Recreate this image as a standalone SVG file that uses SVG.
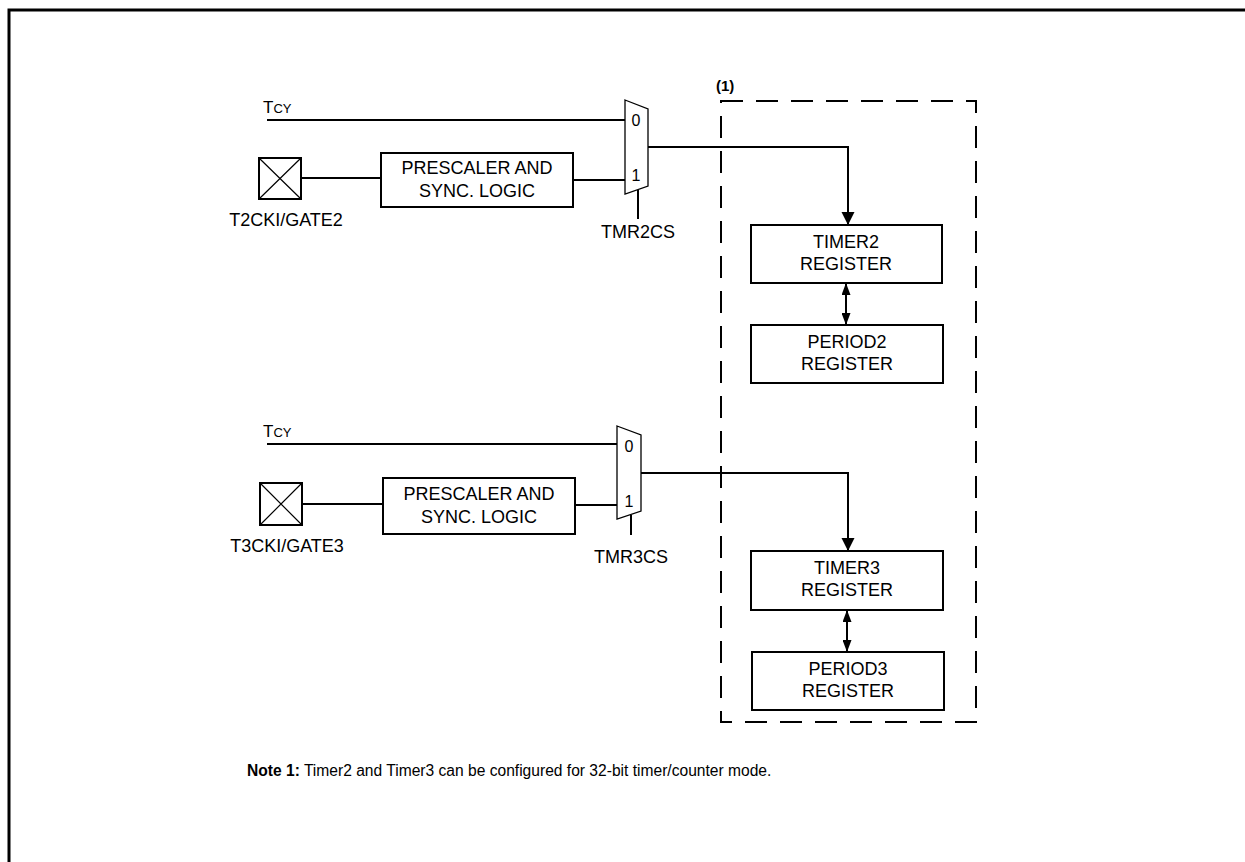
<svg xmlns="http://www.w3.org/2000/svg" width="1245" height="862" viewBox="0 0 1245 862">
<style>
text{font-family:"Liberation Sans",Arial,sans-serif;font-size:18px;fill:#000}
.c{text-anchor:middle}
.box{fill:#fff;stroke:#000;stroke-width:2}
.w{fill:none;stroke:#000;stroke-width:2}
.thin{fill:none;stroke:#000;stroke-width:1.2}
.mux{fill:#fff;stroke:#000;stroke-width:1.3}
.b{font-weight:bold}
.d{font-size:16px}
.note{font-size:15.6px}
</style>
<defs>
<marker id="ah" viewBox="0 0 13 18" refX="13" refY="9" markerWidth="13" markerHeight="18" markerUnits="userSpaceOnUse" orient="auto">
<path d="M0,2.5 L13,9 L0,15.5 Z" fill="#000"/>
</marker>
<marker id="ah2" viewBox="0 0 12 9" refX="12" refY="4.5" markerWidth="12" markerHeight="9" markerUnits="userSpaceOnUse" orient="auto-start-reverse">
<path d="M0,0 L12,4.5 L0,9 Z" fill="#000"/>
</marker>
</defs>
<rect x="0" y="0" width="1245" height="862" fill="#fff"/>
<path d="M9,870 V10 H1250" fill="none" stroke="#000" stroke-width="3"/>

<g id="group1">
<rect x="721" y="101" width="255" height="621" fill="none" stroke="#000" stroke-width="2" stroke-dasharray="22 13"/>
<text x="716" y="91" class="b" style="font-size:15px">(1)</text>
</g>

<g id="connectors">
<line x1="267" y1="120" x2="625" y2="120" class="w"/>
<line x1="301" y1="178" x2="381" y2="178" class="w"/>
<line x1="573" y1="180" x2="625" y2="180" class="w"/>
<polyline points="648,147 848,147 848,225" class="w" marker-end="url(#ah)"/>
<line x1="638" y1="190" x2="638" y2="219" class="w"/>
<line x1="846" y1="283" x2="846" y2="325" class="w" marker-start="url(#ah2)" marker-end="url(#ah2)"/>

<line x1="267" y1="444" x2="617" y2="444" class="w"/>
<line x1="302" y1="504" x2="383" y2="504" class="w"/>
<line x1="573" y1="505" x2="617" y2="505" class="w"/>
<polyline points="641,473 848,473 848,551" class="w" marker-end="url(#ah)"/>
<line x1="631" y1="515" x2="631" y2="535" class="w"/>
<line x1="847" y1="610" x2="847" y2="652" class="w" marker-start="url(#ah2)" marker-end="url(#ah2)"/>
</g>

<g id="tcy1"><text x="263" y="113"><tspan style="font-size:17px">T</tspan><tspan style="font-size:13px">CY</tspan></text></g>
<g id="pad2">
<rect x="259" y="158" width="42" height="41" class="box"/>
<path d="M259,158 L301,199 M301,158 L259,199" class="thin"/>
<text x="286" y="226" class="c">T2CKI/GATE2</text>
</g>
<g id="prescaler2">
<rect x="381" y="153" width="192" height="54" class="box"/>
<text x="477" y="174" class="c">PRESCALER AND</text>
<text x="477" y="197" class="c">SYNC. LOGIC</text>
</g>
<g id="mux2">
<path d="M625,100 L648,109 L648,186 L625,194 Z" class="mux"/>
<text x="636" y="126" class="c d">0</text>
<text x="636" y="181" class="c d">1</text>
<text x="638" y="238" class="c">TMR2CS</text>
</g>
<g id="timer2">
<rect x="751" y="225" width="191" height="58" class="box"/>
<text x="846" y="248" class="c">TIMER2</text>
<text x="846" y="270" class="c">REGISTER</text>
</g>
<g id="period2">
<rect x="751" y="325" width="192" height="58" class="box"/>
<text x="847" y="348" class="c">PERIOD2</text>
<text x="847" y="370" class="c">REGISTER</text>
</g>

<g id="tcy2"><text x="263" y="437"><tspan style="font-size:17px">T</tspan><tspan style="font-size:13px">CY</tspan></text></g>
<g id="pad3">
<rect x="260" y="483" width="42" height="42" class="box"/>
<path d="M260,483 L302,525 M302,483 L260,525" class="thin"/>
<text x="287" y="552" class="c">T3CKI/GATE3</text>
</g>
<g id="prescaler3">
<rect x="383" y="478" width="192" height="56" class="box"/>
<text x="479" y="500" class="c">PRESCALER AND</text>
<text x="479" y="523" class="c">SYNC. LOGIC</text>
</g>
<g id="mux3">
<path d="M617,426 L641,435 L641,511 L617,519 Z" class="mux"/>
<text x="629" y="452" class="c d">0</text>
<text x="629" y="507" class="c d">1</text>
<text x="631" y="563" class="c">TMR3CS</text>
</g>
<g id="timer3">
<rect x="751" y="551" width="192" height="59" class="box"/>
<text x="847" y="574" class="c">TIMER3</text>
<text x="847" y="596" class="c">REGISTER</text>
</g>
<g id="period3">
<rect x="752" y="652" width="192" height="58" class="box"/>
<text x="848" y="675" class="c">PERIOD3</text>
<text x="848" y="697" class="c">REGISTER</text>
</g>

<g id="note">
<text x="247" y="776" class="note"><tspan class="b">Note  1:</tspan> Timer2 and Timer3 can be configured for 32-bit timer/counter mode.</text>
</g>
</svg>
